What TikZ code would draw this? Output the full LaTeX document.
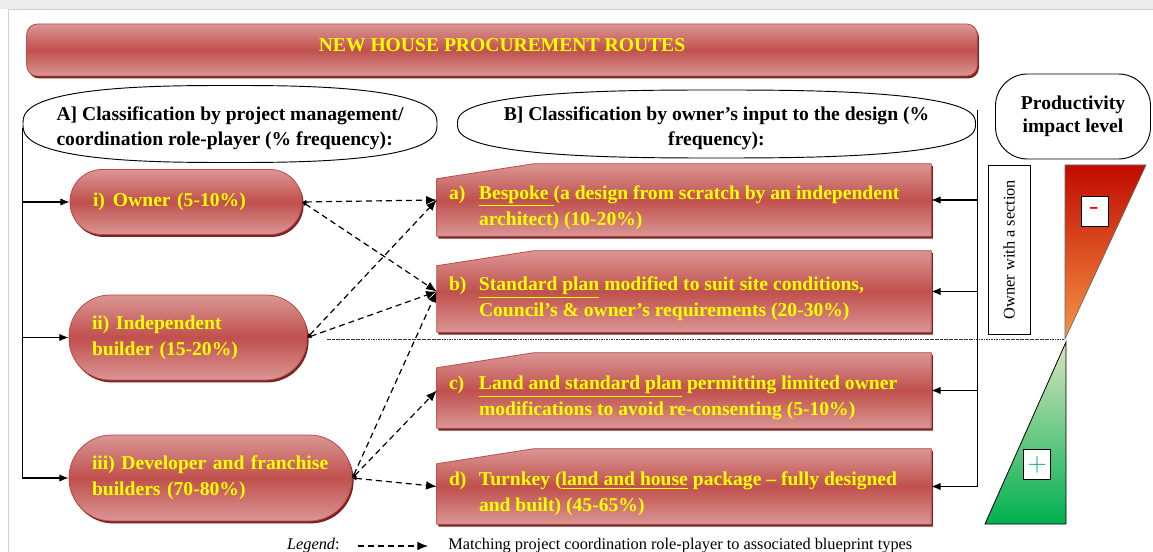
\documentclass[tikz,border=0pt]{standalone}
\usepackage{fontspec}
\setmainfont{Liberation Serif}
\usepackage{array}
\usetikzlibrary{arrows.meta}
\usetikzlibrary{shadows}
\usetikzlibrary{backgrounds}
\usetikzlibrary{calc}
\definecolor{pinkred}{RGB}{218,150,148}
\definecolor{darkred}{RGB}{192,80,77}
\definecolor{edgered}{RGB}{190,75,72}
\definecolor{shadowred}{RGB}{120,35,33}
\definecolor{txtyellow}{RGB}{255,255,0}
\definecolor{topred}{RGB}{192,10,0}
\definecolor{botorange}{RGB}{247,150,70}
\definecolor{topgreen}{RGB}{216,228,188}
\definecolor{botgreen}{RGB}{0,176,80}
\newcommand{\bfs}{\fontsize{14.7}{19.5}\selectfont\bfseries}
\newcommand{\blueprinttext}[2]{\begin{tabular}{@{}>{\raggedright\arraybackslash}p{22.5pt}@{}>{\raggedright\arraybackslash}p{330pt}@{}}#1 & #2\end{tabular}}
\newcommand{\headeroval}[3]{\draw[line width=0.7pt, shift={(#1)}] plot[smooth cycle, domain=0.5:357.5, samples=120] ({#2*sign(cos(\x))*abs(cos(\x))^0.75}, {#3*sign(sin(\x))*abs(sin(\x))^0.75});}
\tikzset{
redshade/.style={top color=pinkred, bottom color=pinkred, middle color=darkred, draw=edgered, line width=0.6pt,
  drop shadow={shadow xshift=1.2pt, shadow yshift=-1.8pt, fill=shadowred, opacity=1}},
role/.style={redshade, rectangle, text=txtyellow, font=\bfs, align=left, inner sep=0pt},
blueprint/.style={rectangle, minimum width=370.5pt, inner sep=0pt, text=txtyellow, font=\bfs, text height=30pt, text depth=12pt},
header/.style={rectangle, inner sep=0pt, font=\fontsize{14.7}{18.75}\selectfont\bfseries},
match/.style={dash pattern=on 4.5pt off 3pt, line width=0.9pt, {Latex[length=3pt,width=3.5pt]}-{Latex[length=8pt,width=6.5pt]}},
feed/.style={line width=0.8pt, -{Latex[length=7pt,width=5.5pt]}},
signbox/.style={draw, line width=0.7pt, fill=white, minimum width=20.25pt, minimum height=22.5pt, inner sep=0pt, font=\sffamily\fontsize{20}{20}\selectfont}
}
\begin{document}
\begin{tikzpicture}[x=0.75pt,y=-0.75pt]
\useasboundingbox (0,0) rectangle (1153,552);
\fill[black!7] (0,0) rectangle (1153,9);
\draw[black!18] (8,552) -- (8,9) -- (1153,9);

\node[redshade, rounded corners=8pt, minimum width=713pt, minimum height=39pt, text=txtyellow, font=\bfs, text height=9.7pt, text depth=7pt] (title) at (502,50) {NEW HOUSE PROCUREMENT ROUTES};

\node[header, minimum width=310.5pt, minimum height=57.75pt, align=left] (A) at (230,128) {A] Classification by project management/\\coordination role-player (\% frequency):};
\node[header, minimum width=388.5pt, minimum height=51pt, align=center] (B) at (716.5,128) {B] Classification by owner’s input to the design (\%\\frequency):};
\headeroval{230,124}{207}{38.5}
\headeroval{716.5,124}{259}{34}
\node[draw, line width=0.7pt, rounded corners=24pt, minimum width=116.25pt, minimum height=63.75pt, align=center, font=\fontsize{14.7}{17.5}\selectfont\bfseries] (impact) at (1073,116.5) {Productivity\\impact level};

\node[role, rounded corners=24pt, minimum width=174pt, minimum height=48.75pt, text width=139.5pt] (i) at (186,202) {i)\hspace{6pt}Owner (5-10\%)};
\node[role, rounded corners=31pt, minimum width=178.5pt, minimum height=63.75pt, text width=144pt] (ii) at (188,337.5) {ii) Independent\\builder (15-20\%)};
\node[role, rounded corners=32pt, minimum width=212.25pt, minimum height=64.5pt, text width=177.75pt] (iii) at (210.5,478) {iii) Developer and franchise\\builders (70-80\%)};

\node[blueprint, minimum height=54pt] (a) at (684,200) {\blueprinttext{a)}{\underline{Bespoke }(a design from scratch by an independent\newline architect) (10-20\%)}};
\node[blueprint, minimum height=60.75pt] (b) at (684,291.5) {\blueprinttext{b)}{\underline{Standard plan} modified to suit site conditions,\newline Council’s \& owner’s requirements (20-30\%)}};
\node[blueprint, minimum height=56.25pt] (c) at (684,390.5) {\blueprinttext{c)}{\underline{Land and standard plan} permitting limited owner\newline modifications to avoid re-consenting (5-10\%)}};
\node[blueprint, minimum height=56.25pt] (d) at (684,486.5) {\blueprinttext{d)}{Turnkey (\underline{land and house} package -- fully designed\newline and built) (45-65\%)}};
\begin{scope}[on background layer]
\foreach \n in {a,b,c,d}
  \shade[redshade] (\n.south west) -- (\n.south east) -- (\n.north east) -- ($(\n.north west)+(97,0)$) -- ($(\n.north west)+(0,15)$) -- cycle;
\end{scope}

\node[draw, line width=0.7pt, rotate=90, minimum width=126.75pt, minimum height=31.5pt, font=\fontsize{12.25}{14}\selectfont] (section) at (1009,249.5) {Owner with a section};

\coordinate (apex) at (1065,339);
\shade[top color=topred, bottom color=botorange, draw=black!60, line width=0.5pt] (1065,165) -- (1146,165) -- (apex) -- cycle;
\shade[top color=topgreen, bottom color=botgreen, draw=black, line width=0.6pt] (1066,342) -- (1066,524) -- (985,524) -- cycle;
\node[signbox, text=red] (minus) at (1094.5,211) {\bfseries -};
\node[signbox, text=botgreen] (plus) at (1037,464.5) {+};

\coordinate (split) at (327,339);
\draw[black!80, line width=0.5pt, dash pattern=on 2pt off 0.6pt on 0.6pt off 0.6pt] (split) -- (apex);

\draw[feed] (A.west) |- (iii.west);
\draw[feed] (A.west |- i.west) -- (i.west);
\draw[feed] (A.west |- ii.west) -- (ii.west);

\coordinate (rtop) at ($(B.east)+(2,-18)$);
\draw[feed] (rtop) |- (d.east);
\foreach \n in {a,b,c}
  \draw[feed] (rtop |- \n.east) -- (\n.east);

\draw[match] (i.east) -- (a.west);
\draw[match] (i.east) -- (b.west);
\draw[match] (ii.east) -- (a.west);
\draw[match] (ii.east) -- (b.west);
\draw[match] (iii.east) -- (b.west);
\draw[match] (iii.east) -- (c.west);
\draw[match] (iii.east) -- (d.west);

\node[anchor=east, inner sep=0pt, font=\fontsize{12.25}{14}\selectfont] (legend) at (340,546) {\textit{Legend}:};
\node[anchor=west, inner sep=0pt, font=\fontsize{12.25}{14}\selectfont] (key) at (448,546) {Matching project coordination role-player to associated blueprint types};
\draw[dash pattern=on 4.5pt off 3pt, line width=0.9pt, -{Latex[length=8pt,width=6.5pt]}] ([xshift=13.5pt]legend.east) -- ([xshift=-15pt]key.west);
\end{tikzpicture}
\end{document}
